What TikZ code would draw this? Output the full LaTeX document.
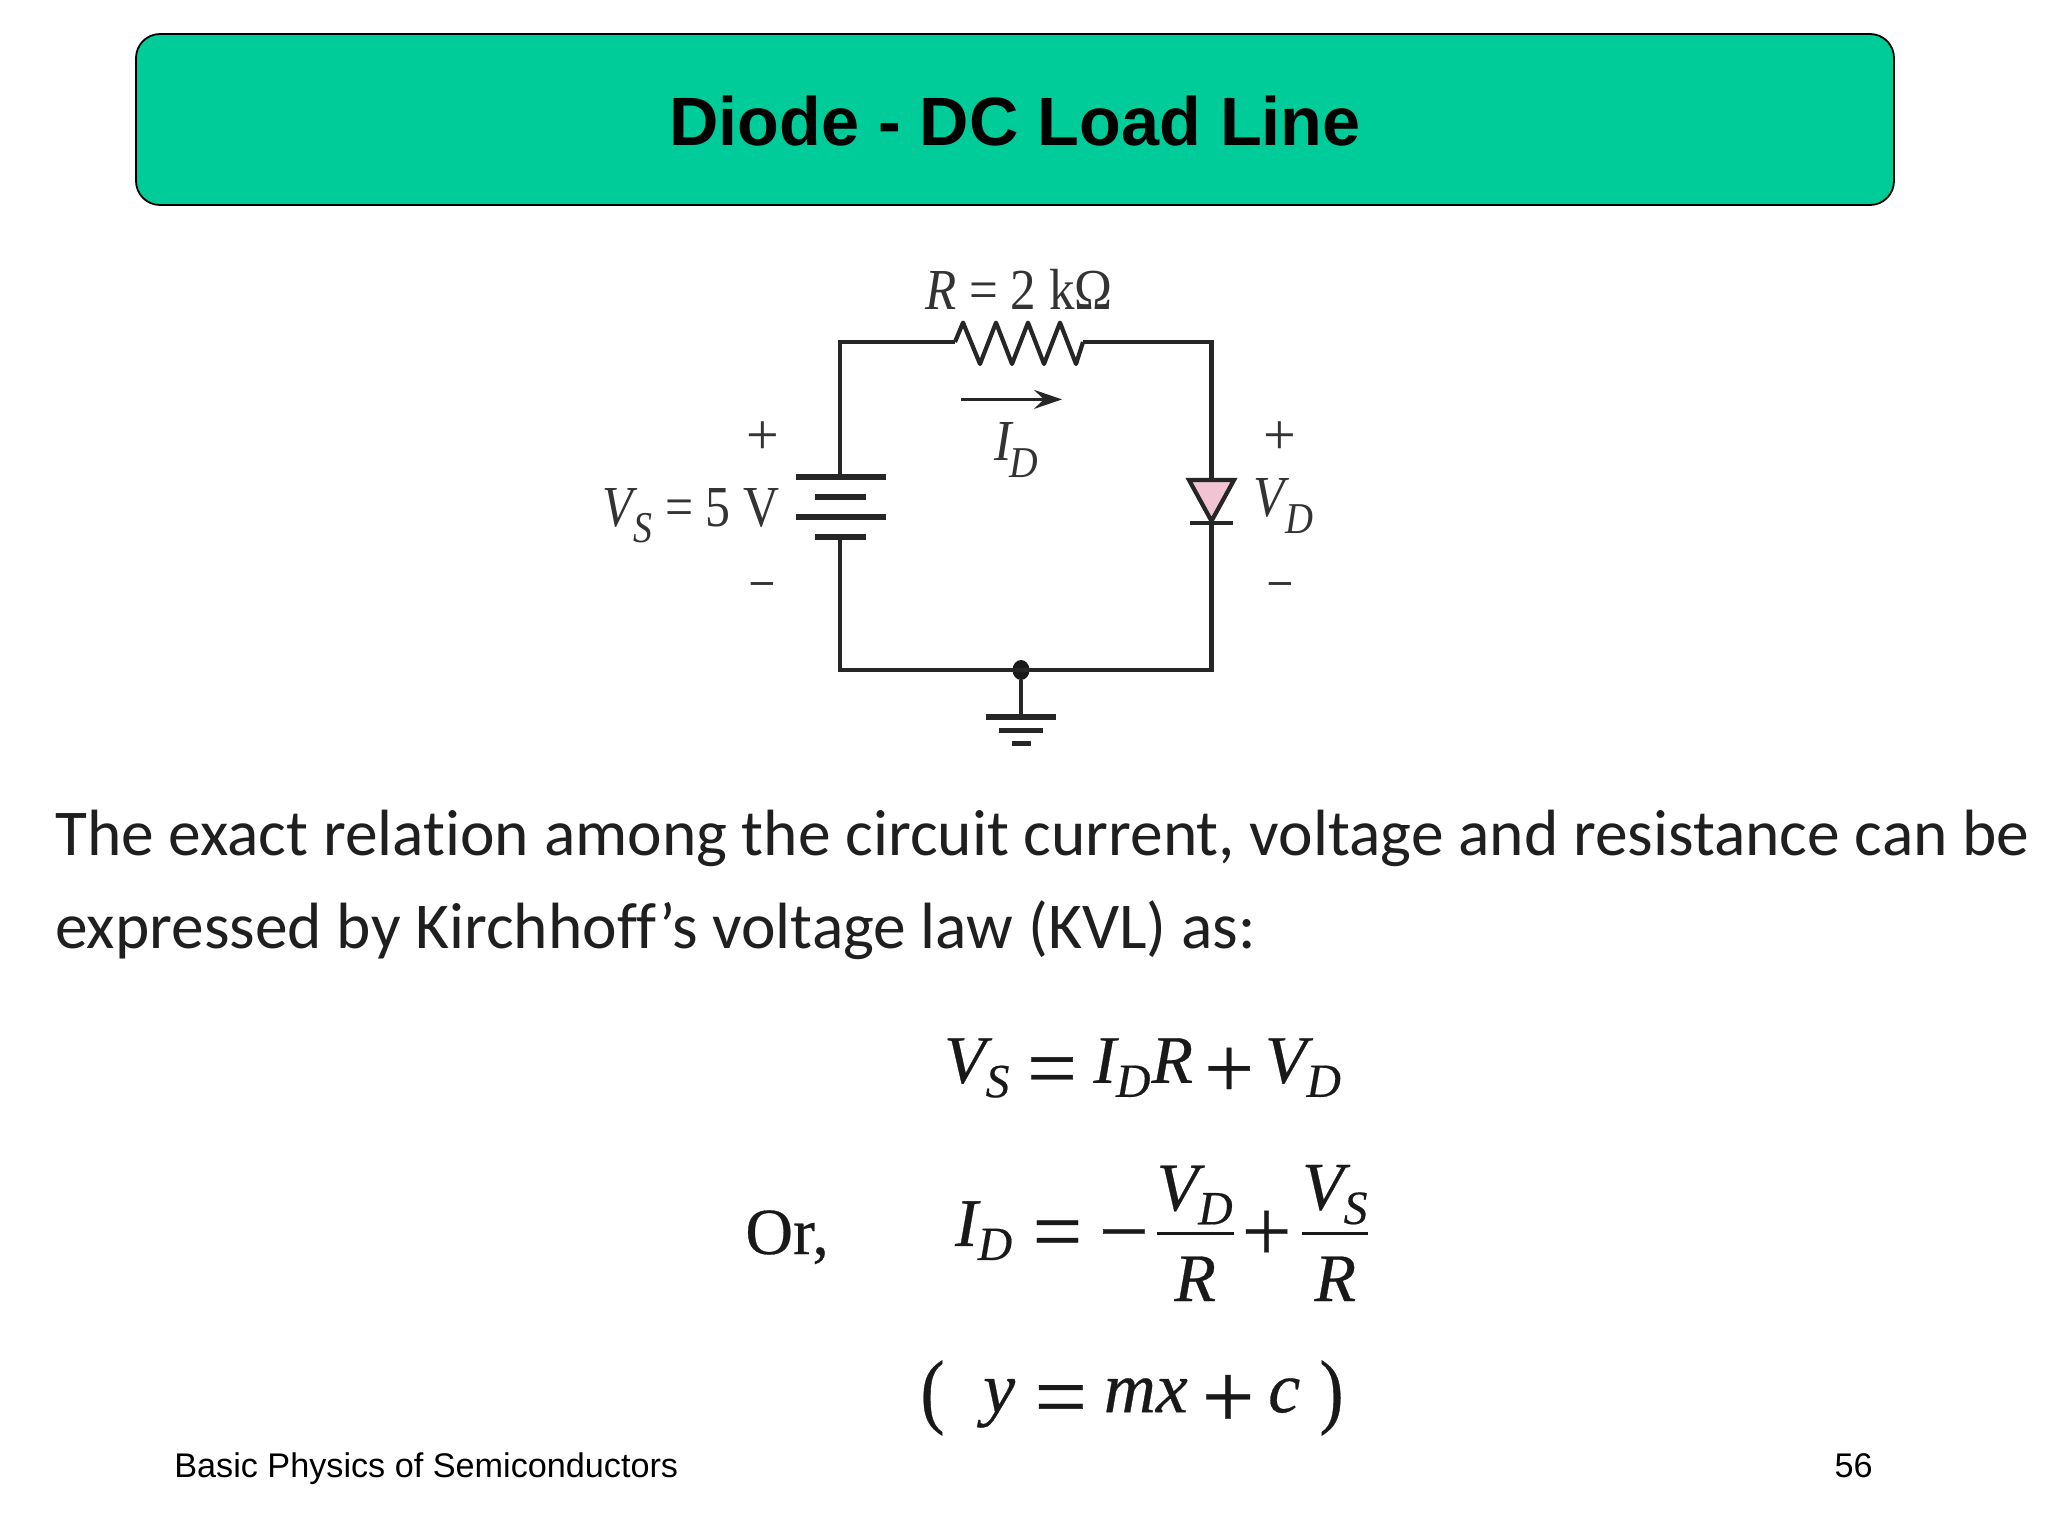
\documentclass[tikz,border=0pt]{standalone}
\usepackage{amsmath}
\usepackage{fontspec}
\usepackage{graphicx}
\usetikzlibrary{arrows.meta,shapes.geometric}
\definecolor{ccTeal}{HTML}{00CC99}
\definecolor{pinkD}{HTML}{F0C4D2}
\setmainfont{Liberation Sans}
\newfontfamily\bodyfont[Ligatures=NoCommon]{Carlito}
\newfontfamily\circfont{Liberation Serif}
\newfontfamily\eqfont[FakeBold=0.4]{Liberation Serif}
\newcommand{\fsz}[1]{\fontsize{#1}{#1}\selectfont}
\newcommand{\csub}[2]{\textit{#1}\kern-0.08em\raisebox{-0.28em}{\fsz{22}\textit{#2}}}
\newcommand{\ev}[1]{\text{\eqfont\itshape #1}}
\newcommand{\opsym}[1]{\raisebox{-0.22em}{\scalebox{1.3}{\eqfont #1}}}
\newcommand{\efr}[2]{\genfrac{}{}{1.3pt}{0}{#1\rule[-0.12em]{0pt}{0pt}}{\rule{0pt}{0.86em}#2}}
\tikzset{
  wire/.style={line width=2.1pt,draw=black!85,line join=miter,line cap=butt},
  plate/.style={line width=2.6pt,draw=black!85},
  circlabel/.style={inner sep=0pt,font=\circfont\fsz{29},text=black!80},
  sign/.style={inner sep=0pt,font=\circfont\fsz{29},text=black!80},
  eqn/.style={inner sep=0pt,text=black!90},
  bodytext/.style={inner sep=0pt,anchor=base west,font=\bodyfont\fsz{32.7},text=black!88},
  foot/.style={inner sep=0pt,anchor=base,font=\fsz{17.1}},
}
\begin{document}
\begin{tikzpicture}[x=0.5pt,y=-0.5pt]
\useasboundingbox (0,0) rectangle (2048,1536);
\fill[white] (0,0) rectangle (2048,1536);
% title
\node[draw=black,line width=0.9pt,fill=ccTeal,rounded corners=12pt,minimum width=879pt,minimum height=85.5pt,inner sep=0pt,
  text height=26.4pt,text depth=0pt,font=\bfseries\fsz{34.2}] (title) at (1015,119.5) {Diode - DC Load Line};
% circuit points
\coordinate (tl) at (840,342);
\coordinate (tr) at (1211.5,342);
\coordinate (bl) at (840,670);
\coordinate (br) at (1211.5,670);
\coordinate (rin) at (955,342);
\coordinate (rout) at (1083,342);
\coordinate (batt) at (840,477);
\coordinate (battb) at (840,537);
\coordinate (dtop) at (1211.5,479);
\coordinate (dbot) at (1211.5,523);
\coordinate (gnd) at (1021,717);
\node[ellipse,fill=black!90,inner sep=0pt,minimum width=8.5pt,minimum height=10pt] (dot) at (1021,670) {};
% wires
\draw[wire] (batt) -- (tl) -- (rin);
\draw[wire,line join=round] (rin) -- (963,322.6) -- (980,364) -- (996,322.6) -- (1012,364) -- (1028,322.6) -- (1044,364) -- (1060,322.6) -- (1076,364) -- (rout);
\draw[wire] (rout) -- (tr) -- (dtop);
\draw[wire] (dbot) -- (br) -- (bl) -- (battb);
\draw[wire] (dot) -- (gnd);
% battery
\coordinate (p1l) at (796,477); \coordinate (p1r) at (885.5,477);
\coordinate (p2l) at (815,497); \coordinate (p2r) at (866,497);
\coordinate (p3l) at (796,517); \coordinate (p3r) at (885.5,517);
\coordinate (p4l) at (815,537); \coordinate (p4r) at (866,537);
\draw[plate] (p1l) -- (p1r);
\draw[plate] (p2l) -- (p2r);
\draw[plate] (p3l) -- (p3r);
\draw[plate] (p4l) -- (p4r);
% diode
\draw[wire,fill=pinkD,line join=miter] (1189,480) -- (1234,480) -- (1211.5,521) -- cycle;
\coordinate (dbl) at (1190,523); \coordinate (dbr) at (1233,523);
\draw[wire] (dbl) -- (dbr);
% ground
\coordinate (g1l) at (986,717); \coordinate (g1r) at (1056,717);
\coordinate (g2l) at (999,730.5); \coordinate (g2r) at (1043,730.5);
\coordinate (g3l) at (1011.5,743.6); \coordinate (g3r) at (1031,743.6);
\draw[plate] (g1l) -- (g1r);
\draw[plate] (g2l) -- (g2r);
\draw[plate] (g3l) -- (g3r);
% current arrow
\coordinate (a1) at (961,399.4);
\coordinate (a2) at (1062,399.4);
\draw[line width=1.6pt,draw=black!85,-{Stealth[length=14pt,width=9.5pt,inset=5pt]}] (a1) -- (a2);
% labels
\node[circlabel] (rlab) at (1019,289) {\scalebox{0.88}[1]{\textit{R} = 2 kΩ}};
\node[circlabel] (ilab) at (1016,450) {\scalebox{0.9}[1]{\csub{I}{D}}};
\node[circlabel] (vslab) at (691,516) {\scalebox{0.86}[1]{\csub{V}{S} = 5 V}};
\node[circlabel] (vdlab) at (1283,506) {\scalebox{0.88}[1]{\csub{V}{D}}};
\node[sign] (p1) at (762.5,438) {+};
\node[sign] (p2) at (1280,438) {+};
\node[sign] (m1) at (762.5,590) {\scalebox{0.75}[1]{–}};
\node[sign] (m2) at (1280,590) {\scalebox{0.75}[1]{–}};
% body
\node[bodytext] (l1) at (55,855) {The exact relation among the circuit current, voltage and resistance can be};
\node[bodytext] (l2) at (55,948) {expressed by Kirchhoff’s voltage law (KVL) as:};
% equations
\node[eqn,anchor=center] (e1) at (1143,1068) {\fsz{34}$\ev{V}_{\ev{S}}\mkern6mu\text{\opsym{=}}\mkern6mu\ev{I}_{\ev{D}}\ev{R}\mkern4mu\text{\opsym{+}}\mkern4mu\ev{V}_{\ev{D}}$};
\node[eqn,anchor=base west,font=\eqfont\fsz{33}] (or) at (745,1254) {Or,};
\node[eqn,anchor=center] (e2) at (1163,1233) {\fsz{34}$\displaystyle \ev{I}_{\ev{D}}\mkern7mu\text{\opsym{=}}\mkern6mu\text{\opsym{−}}\mkern2mu\efr{\ev{V}_{\ev{D}}}{\ev{R}}\mkern2mu\text{\opsym{+}}\mkern3mu\efr{\ev{V}_{\ev{S}}}{\ev{R}}$};
\node[eqn,anchor=center] (e3) at (1132,1398) {\fsz{36}$\text{\raisebox{-0.08em}{\scalebox{1}[1.15]{\eqfont (}}}\mkern14mu\ev{y}\mkern7mu\text{\opsym{=}}\mkern6mu\ev{mx}\mkern5mu\text{\opsym{+}}\mkern5mu\ev{c}\mkern7mu\text{\raisebox{-0.08em}{\scalebox{1}[1.15]{\eqfont )}}}$};
% footer
\node[foot,anchor=base west] (f1) at (174,1477) {Basic Physics of Semiconductors};
\node[foot,anchor=base east] (f2) at (1873,1477) {56};
\end{tikzpicture}
\end{document}
